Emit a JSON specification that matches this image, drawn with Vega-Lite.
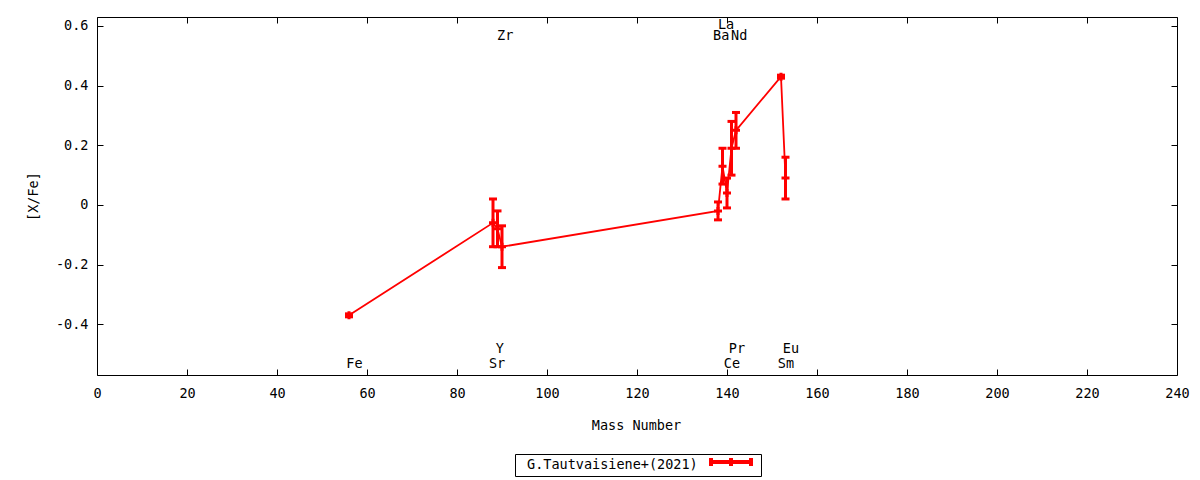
{
  "$schema": "https://vega.github.io/schema/vega-lite/v6.json",
  "autosize": {"type": "none"},
  "padding": {"left": 97, "top": 17, "right": 23, "bottom": 105},
  "width": 1080,
  "height": 358,
  "background": "white",
  "datasets": {
    "abund": [
      {"el": "Fe", "mass": 56, "xfe": -0.37, "lo": -0.375, "hi": -0.365},
      {"el": "Sr", "mass": 88, "xfe": -0.06, "lo": -0.14, "hi": 0.02},
      {"el": "Y", "mass": 89, "xfe": -0.08, "lo": -0.14, "hi": -0.02},
      {"el": "Zr", "mass": 90, "xfe": -0.14, "lo": -0.21, "hi": -0.07},
      {"el": "Ba", "mass": 138, "xfe": -0.02, "lo": -0.05, "hi": 0.01},
      {"el": "La", "mass": 139, "xfe": 0.13, "lo": 0.07, "hi": 0.19},
      {"el": "Ce", "mass": 140, "xfe": 0.04, "lo": -0.01, "hi": 0.09},
      {"el": "Pr", "mass": 141, "xfe": 0.19, "lo": 0.10, "hi": 0.28},
      {"el": "Nd", "mass": 142, "xfe": 0.25, "lo": 0.19, "hi": 0.31},
      {"el": "Sm", "mass": 152, "xfe": 0.43, "lo": 0.425, "hi": 0.435},
      {"el": "Eu", "mass": 153, "xfe": 0.09, "lo": 0.02, "hi": 0.16}
    ],
    "labels": [
      {"el": "Fe", "lx": 57.2, "ly": -0.533},
      {"el": "Sr", "lx": 88.9, "ly": -0.533},
      {"el": "Y", "lx": 89.5, "ly": -0.483},
      {"el": "Zr", "lx": 90.7, "ly": 0.565},
      {"el": "Ba", "lx": 138.7, "ly": 0.565},
      {"el": "La", "lx": 139.8, "ly": 0.602},
      {"el": "Ce", "lx": 141.1, "ly": -0.533},
      {"el": "Pr", "lx": 142.2, "ly": -0.483},
      {"el": "Nd", "lx": 142.7, "ly": 0.565},
      {"el": "Sm", "lx": 153.1, "ly": -0.533},
      {"el": "Eu", "lx": 154.2, "ly": -0.483}
    ]
  },
  "layer": [
    {
      "data": {"name": "abund"},
      "mark": {"type": "line", "color": "red", "strokeWidth": 1.8},
      "encoding": {
        "x": {
          "field": "mass", "type": "quantitative",
          "scale": {"domain": [0, 240], "nice": false, "zero": false},
          "axis": {
            "orient": "bottom", "title": "Mass Number",
            "values": [0, 20, 40, 60, 80, 100, 120, 140, 160, 180, 200, 220, 240],
            "labelPadding": 17, "titleX": 539, "titleY": 50, "titleBaseline": "middle"
          }
        },
        "y": {
          "field": "xfe", "type": "quantitative",
          "scale": {"domain": [-0.57, 0.63], "nice": false, "zero": false},
          "axis": {
            "orient": "left", "title": "[X/Fe]",
            "values": [-0.4, -0.2, 0, 0.2, 0.4, 0.6],
            "labelExpr": "'' + datum.value",
            "labelPadding": 15, "titleX": -64, "titleY": 179, "titleBaseline": "middle", "titleAngle": -90
          }
        }
      }
    },
    {
      "data": {"name": "abund"},
      "mark": {"type": "rule", "strokeWidth": 3},
      "encoding": {
        "x": {"field": "mass", "type": "quantitative",
          "axis": {"orient": "top", "labels": false, "title": null,
            "values": [0, 20, 40, 60, 80, 100, 120, 140, 160, 180, 200, 220, 240]}},
        "y": {"field": "lo", "type": "quantitative",
          "axis": {"orient": "right", "labels": false, "title": null,
            "values": [-0.4, -0.2, 0, 0.2, 0.4, 0.6]}},
        "y2": {"field": "hi"},
        "color": {
          "datum": "G.Tautvaisiene+(2021)",
          "scale": {"range": ["red"]},
          "legend": {
            "orient": "none", "legendX": 418, "legendY": 437,
            "title": "\u2800G.Tautvaisiene+(2021)",
            "titleOrient": "left", "titleLimit": 400, "titlePadding": 27,
            "labelExpr": "''", "labelOffset": 0, "labelFontSize": 1,
            "symbolType": "M-5,0H5M-5,-1V1M5,-1V1M0,-1V1",
            "symbolSize": 64, "symbolStrokeWidth": 4,
            "strokeColor": "black", "padding": 2
          }
        }
      }
    },
    {
      "data": {"name": "abund"},
      "mark": {"type": "tick", "orient": "horizontal", "color": "red", "size": 8, "thickness": 3, "opacity": 1},
      "encoding": {
        "x": {"field": "mass", "type": "quantitative", "axis": null},
        "y": {"field": "lo", "type": "quantitative", "axis": null}
      }
    },
    {
      "data": {"name": "abund"},
      "mark": {"type": "tick", "orient": "horizontal", "color": "red", "size": 8, "thickness": 3, "opacity": 1},
      "encoding": {
        "x": {"field": "mass", "type": "quantitative", "axis": null},
        "y": {"field": "hi", "type": "quantitative", "axis": null}
      }
    },
    {
      "data": {"name": "abund"},
      "mark": {"type": "point", "shape": "M-1,0H1M0,-1V1", "filled": false, "stroke": "red", "strokeWidth": 3, "size": 64, "opacity": 1},
      "encoding": {
        "x": {"field": "mass", "type": "quantitative", "axis": null},
        "y": {"field": "xfe", "type": "quantitative", "axis": null}
      }
    },
    {
      "data": {"name": "labels"},
      "mark": {"type": "text", "align": "center", "baseline": "middle", "font": "DejaVu Sans Mono", "fontSize": 13.5, "color": "black"},
      "encoding": {
        "x": {"field": "lx", "type": "quantitative", "axis": null},
        "y": {"field": "ly", "type": "quantitative", "axis": null},
        "text": {"field": "el"}
      }
    }
  ],
  "config": {
    "font": "DejaVu Sans Mono",
    "view": {"stroke": "black", "strokeWidth": 1},
    "axis": {
      "domain": false, "grid": false, "ticks": true,
      "tickColor": "black", "tickSize": -6, "tickWidth": 1,
      "labelFont": "DejaVu Sans Mono", "labelFontSize": 13.5, "labelColor": "black",
      "labelFlush": false, "labelOverlap": false,
      "titleFont": "DejaVu Sans Mono", "titleFontSize": 13.5, "titleFontWeight": "normal", "titleColor": "black"
    },
    "legend": {
      "titleFont": "DejaVu Sans Mono", "titleFontSize": 13.5, "titleFontWeight": "normal", "titleColor": "black",
      "labelFont": "DejaVu Sans Mono"
    }
  }
}
